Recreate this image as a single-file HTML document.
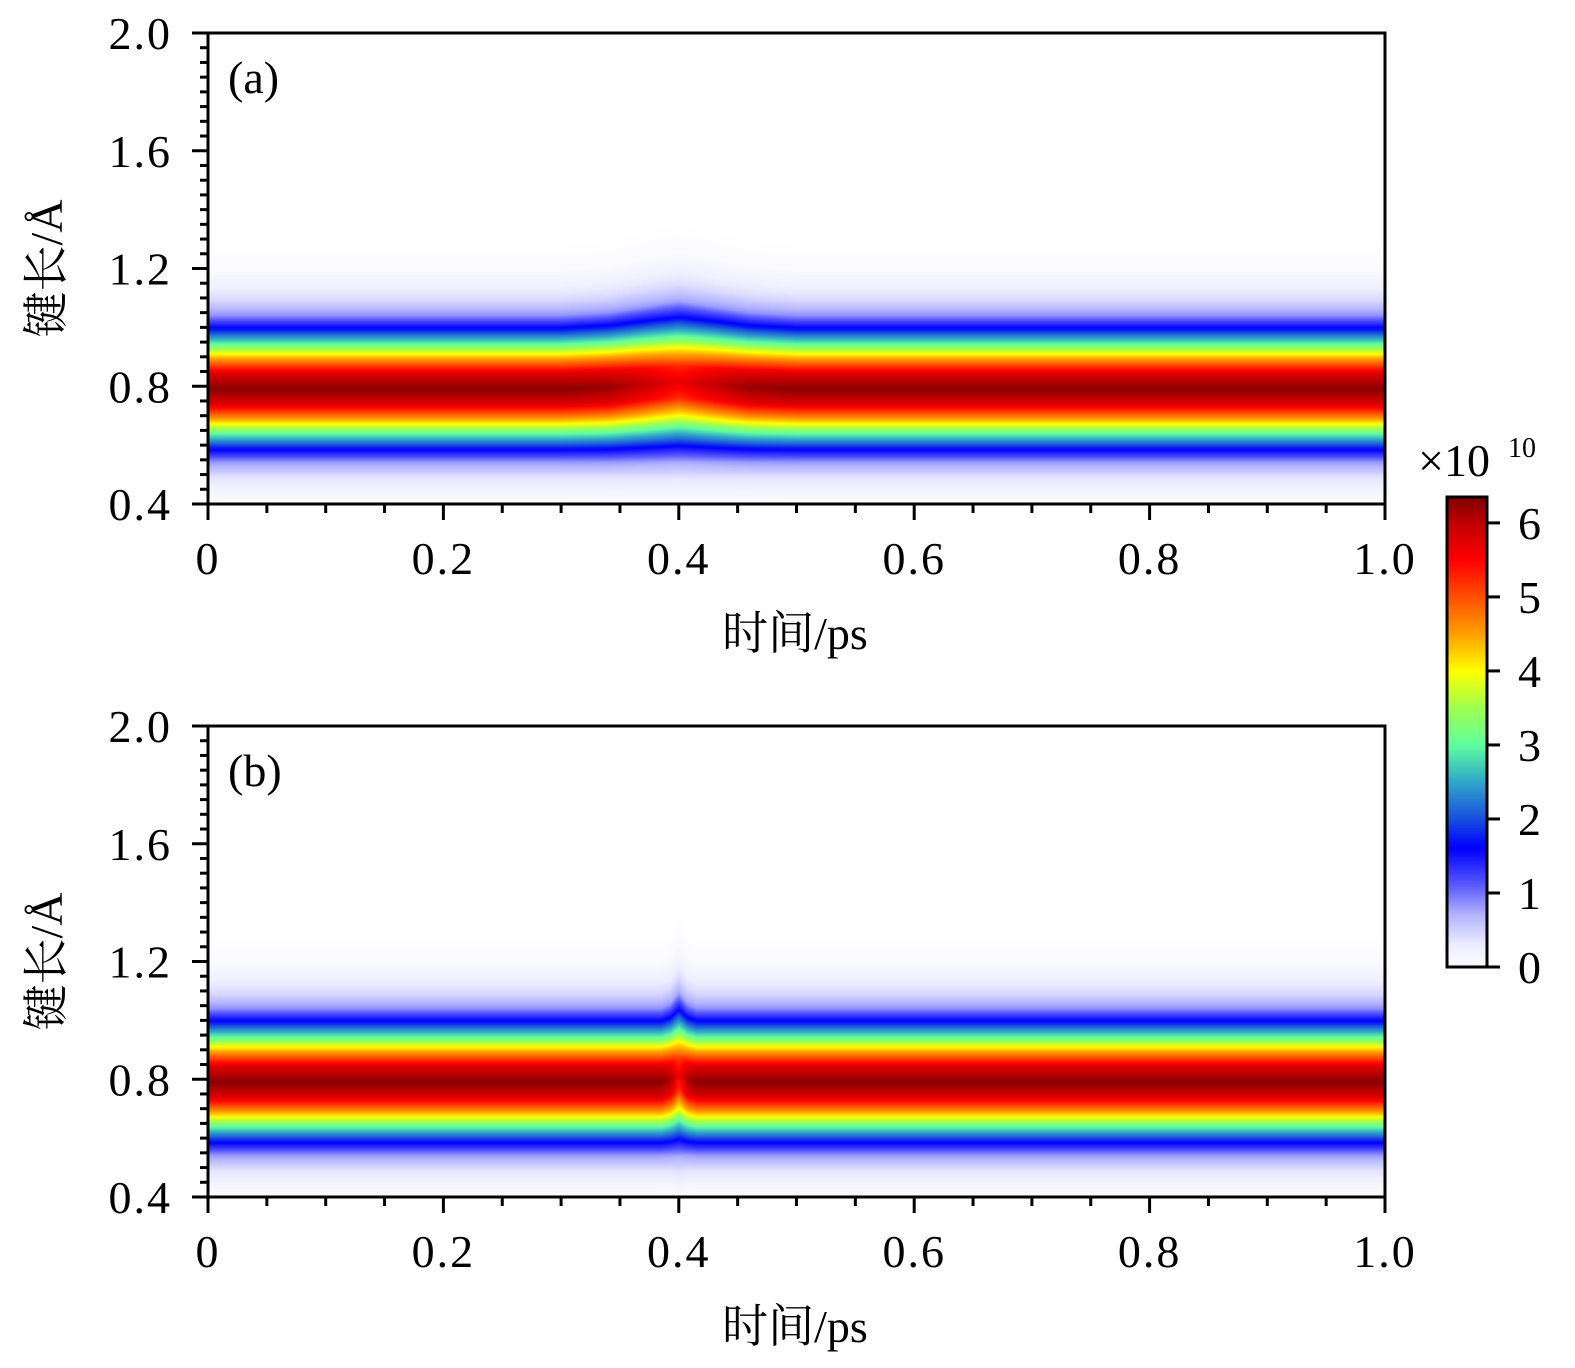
<!DOCTYPE html>
<html><head><meta charset="utf-8">
<style>
html,body{margin:0;padding:0;background:#fff;}
body{width:1575px;height:1368px;position:relative;overflow:hidden;font-family:"Liberation Serif","Noto Serif CJK SC",serif;}
canvas{position:absolute;}
svg{position:absolute;left:0;top:0;}
</style></head>
<body>
<canvas id="cvA" width="1177" height="471" style="left:208px;top:33px"></canvas>
<canvas id="cvB" width="1177" height="471" style="left:208px;top:726px"></canvas>
<canvas id="cvC" width="40" height="470" style="left:1447px;top:497px"></canvas>
<svg id="svg" width="1575" height="1368"></svg>
<script>
// ---- data ----
const profileOffsets = [-0.5,-0.45,-0.4,-0.35,-0.3,-0.25,-0.2,-0.15,-0.1,-0.05,0,0.05,0.1,0.15,0.2,0.25,0.3,0.35,0.4,0.45,0.5];
const profileValues  = [0,0.01,0.05,0.15,0.38,0.82,1.75,3.07,4.57,5.82,6.3,5.82,4.57,3.07,1.75,0.85,0.45,0.22,0.09,0.03,0];
const bandCenter = 0.79;
const timesA = [0,0.3,0.34,0.37,0.4,0.43,0.46,0.5,1];
const shiftA = [0,0,0.005,0.015,0.025,0.015,0.005,0,0];
const widthA = [1,1,1.02,1.06,1.1,1.06,1.02,1,1];
const ampA   = [1,1,0.99,0.95,0.9,0.95,0.99,1,1];
const timesB = [0,0.385,0.393,0.4,0.407,0.415,1];
const shiftB = [0,0,0.008,0.025,0.008,0,0];
const widthB = [1,1,1.03,1.12,1.03,1,1];
const ampB   = [1,1,0.97,0.88,0.97,1,1];
const xTicks = [0,0.2,0.4,0.6,0.8,1.0];
const xTickLabels = ["0","0.2","0.4","0.6","0.8","1.0"];
const yTicks = [0.4,0.8,1.2,1.6,2.0];
const yTickLabels = ["0.4","0.8","1.2","1.6","2.0"];
const cbTicks = [0,1,2,3,4,5,6];
const cbStops = [0,0.3,0.7,1.1,1.6,2,2.5,3,3.5,4,4.5,5,5.5,6,6.35];
const cbColors = [[255,255,255],[236,236,255],[180,180,255],[90,90,255],[0,0,255],[26,80,224],[48,168,200],[96,255,160],[160,255,80],[255,255,0],[255,160,0],[255,80,0],[255,0,0],[192,0,0],[128,0,0]];

function interp(xs,ys,x){
  if(x<=xs[0])return ys[0];
  if(x>=xs[xs.length-1])return ys[ys.length-1];
  for(let i=1;i<xs.length;i++){ if(x<=xs[i]){const f=(x-xs[i-1])/(xs[i]-xs[i-1]);return ys[i-1]+f*(ys[i]-ys[i-1]);} }
}
function color(v){
  if(v<=cbStops[0])return [255,255,255];
  for(let i=1;i<cbStops.length;i++){ if(v<=cbStops[i]){const f=(v-cbStops[i-1])/(cbStops[i]-cbStops[i-1]);const a=cbColors[i-1],b=cbColors[i];return [a[0]+f*(b[0]-a[0]),a[1]+f*(b[1]-a[1]),a[2]+f*(b[2]-a[2])];} }
  return cbColors[cbColors.length-1];
}
function drawHeat(id,ts,sh,wd,am){
  const c=document.getElementById(id),ctx=c.getContext('2d');
  const W=c.width,H=c.height,img=ctx.createImageData(W,H);
  for(let x=0;x<W;x++){
    const t=x/(W-1),s=interp(ts,sh,t),w=interp(ts,wd,t),a=interp(ts,am,t);
    for(let y=0;y<H;y++){
      const yv=2.0-(y/(H-1))*1.6;
      const d=(yv-bandCenter-s)/w;
      let v=interp(profileOffsets,profileValues,d)*a;
      const col=color(v),k=(y*W+x)*4;
      img.data[k]=col[0];img.data[k+1]=col[1];img.data[k+2]=col[2];img.data[k+3]=255;
    }
  }
  ctx.putImageData(img,0,0);
}
drawHeat('cvA',timesA,shiftA,widthA,ampA);
drawHeat('cvB',timesB,shiftB,widthB,ampB);
(function(){const c=document.getElementById('cvC'),ctx=c.getContext('2d');
  for(let y=0;y<c.height;y++){const v=6.35*(1-y/(c.height-1));const col=color(Math.max(v,0.1));ctx.fillStyle=`rgb(${col[0]|0},${col[1]|0},${col[2]|0})`;ctx.fillRect(0,y,c.width,1);} })();

// ---- axes ----
const svg=document.getElementById('svg');const NS='http://www.w3.org/2000/svg';
function el(tag,attrs,text){const e=document.createElementNS(NS,tag);for(const k in attrs)e.setAttribute(k,attrs[k]);if(text!==undefined)e.textContent=text;svg.appendChild(e);return e;}
function panel(top,label,pname){
  const L=208,R=1385,T=top,B=top+471;
  const xs=t=>L+t*(R-L), ys=v=>B-(v-0.4)/1.6*(B-T);
  const frame=el('rect',{x:L,y:T,width:R-L,height:B-T,fill:'none',stroke:'#000','stroke-width':3});
  
  for(let i=0;i<=20;i++){const t=i*0.05,major=i%4===0;
    const ln=el('line',{x1:xs(t),x2:xs(t),y1:B,y2:B+(major?16:9),stroke:'#000','stroke-width':3});
    }
  xTicks.forEach((t,i)=>{const tx=el('text',{x:xs(t),y:B+70,'font-size':46,'text-anchor':'middle','letter-spacing':2},xTickLabels[i]);
    });
  for(let i=0;i<=32;i++){const v=0.4+i*0.05,major=i%8===0;
    const ln=el('line',{x1:L,x2:L-(major?16:8),y1:ys(v),y2:ys(v),stroke:'#000','stroke-width':3});
    }
  yTicks.forEach((v,i)=>{const tx=el('text',{x:172,y:ys(v)+16,'font-size':46,'text-anchor':'end','letter-spacing':2},yTickLabels[i]);
    });
  const xt=el('text',{x:795,y:B+145,'font-size':46,'text-anchor':'middle'},'时间/ps');
  
  const yc=(T+B)/2;
  const yt=el('text',{x:62,y:yc,'font-size':46,'text-anchor':'middle',transform:`rotate(-90 62 ${yc})`},'键长/Å');
  
  const pl=el('text',{x:228,y:T+60,'font-size':46},label);
  
}
panel(33,'(a)','panel-a');
panel(726,'(b)','panel-b');
// colorbar
const cbT=497,cbB=967,cbL=1447,cbR=1487;
const cbf=el('rect',{x:cbL,y:cbT,width:cbR-cbL,height:cbB-cbT,fill:'none',stroke:'#000','stroke-width':3});

cbTicks.forEach(v=>{const y=cbB-v/6.35*(cbB-cbT);
  const ln=el('line',{x1:cbR,x2:cbR+13,y1:y,y2:y,stroke:'#000','stroke-width':3});
  
  const tx=el('text',{x:1518,y:y+16,'font-size':46},String(v));
  });
const mul=el('text',{x:1418,y:476,'font-size':46},'×10');

const ex=el('text',{x:1508,y:457,'font-size':28},'10');

</script>
</body></html>
